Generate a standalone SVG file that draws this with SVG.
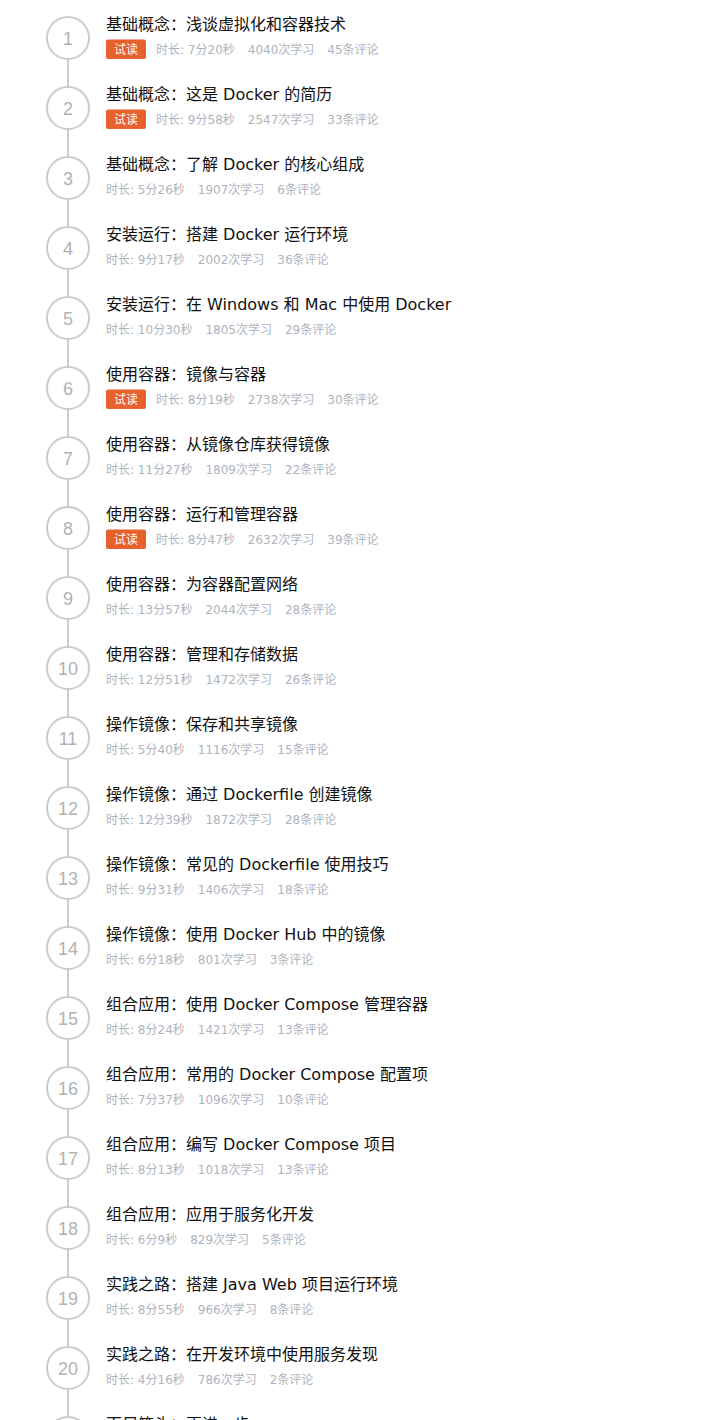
<svg xmlns="http://www.w3.org/2000/svg" width="706" height="1420" viewBox="0 0 706 1420">
<style>
.bg{fill:#ffffff}
.conn{stroke:#cccccc;stroke-width:2;fill:none}
.ring{fill:#ffffff;stroke:#cccccc;stroke-width:2}
.num{font-family:"Liberation Sans","Noto Sans CJK SC",sans-serif;font-size:18px;fill:#b2b2b2;text-anchor:middle}
.title{font-family:"DejaVu Sans","Noto Sans CJK SC",sans-serif;font-size:16px;fill:#111111}
.meta{font-family:"DejaVu Sans","Noto Sans CJK SC",sans-serif;font-size:12px;fill:#adb4bd}
.badge{fill:#e8602c}
.btxt{font-family:"Noto Sans CJK SC",sans-serif;font-size:12px;fill:#ffffff;text-anchor:middle}
</style>
<rect class="bg" x="0" y="0" width="706" height="1420"/>
<g id="connectors">
<line class="conn" x1="68" y1="59" x2="68" y2="87"/>
<line class="conn" x1="68" y1="129" x2="68" y2="157"/>
<line class="conn" x1="68" y1="199" x2="68" y2="227"/>
<line class="conn" x1="68" y1="269" x2="68" y2="297"/>
<line class="conn" x1="68" y1="339" x2="68" y2="367"/>
<line class="conn" x1="68" y1="409" x2="68" y2="437"/>
<line class="conn" x1="68" y1="479" x2="68" y2="507"/>
<line class="conn" x1="68" y1="549" x2="68" y2="577"/>
<line class="conn" x1="68" y1="619" x2="68" y2="647"/>
<line class="conn" x1="68" y1="689" x2="68" y2="717"/>
<line class="conn" x1="68" y1="759" x2="68" y2="787"/>
<line class="conn" x1="68" y1="829" x2="68" y2="857"/>
<line class="conn" x1="68" y1="899" x2="68" y2="927"/>
<line class="conn" x1="68" y1="969" x2="68" y2="997"/>
<line class="conn" x1="68" y1="1039" x2="68" y2="1067"/>
<line class="conn" x1="68" y1="1109" x2="68" y2="1137"/>
<line class="conn" x1="68" y1="1179" x2="68" y2="1207"/>
<line class="conn" x1="68" y1="1249" x2="68" y2="1277"/>
<line class="conn" x1="68" y1="1319" x2="68" y2="1347"/>
<line class="conn" x1="68" y1="1389" x2="68" y2="1417"/>
</g>

<g id="lesson-1">
<circle class="ring" cx="68" cy="38" r="21"/><text class="num" x="68" y="44.5">1</text>
<text class="title" x="106" y="30">基础概念：浅谈虚拟化和容器技术</text>
<rect class="badge" x="106" y="39.5" width="40" height="19.5" rx="2"/><text class="btxt" x="126" y="54">试读</text>
<text class="meta" x="156" y="54">时长: 7分20秒<tspan dx="13">4040次学习</tspan><tspan dx="13">45条评论</tspan></text>
</g>
<g id="lesson-2">
<circle class="ring" cx="68" cy="108" r="21"/><text class="num" x="68" y="114.5">2</text>
<text class="title" x="106" y="100">基础概念：这是 Docker 的简历</text>
<rect class="badge" x="106" y="109.5" width="40" height="19.5" rx="2"/><text class="btxt" x="126" y="124">试读</text>
<text class="meta" x="156" y="124">时长: 9分58秒<tspan dx="13">2547次学习</tspan><tspan dx="13">33条评论</tspan></text>
</g>
<g id="lesson-3">
<circle class="ring" cx="68" cy="178" r="21"/><text class="num" x="68" y="184.5">3</text>
<text class="title" x="106" y="170">基础概念：了解 Docker 的核心组成</text>
<text class="meta" x="106" y="194">时长: 5分26秒<tspan dx="13">1907次学习</tspan><tspan dx="13">6条评论</tspan></text>
</g>
<g id="lesson-4">
<circle class="ring" cx="68" cy="248" r="21"/><text class="num" x="68" y="254.5">4</text>
<text class="title" x="106" y="240">安装运行：搭建 Docker 运行环境</text>
<text class="meta" x="106" y="264">时长: 9分17秒<tspan dx="13">2002次学习</tspan><tspan dx="13">36条评论</tspan></text>
</g>
<g id="lesson-5">
<circle class="ring" cx="68" cy="318" r="21"/><text class="num" x="68" y="324.5">5</text>
<text class="title" x="106" y="310">安装运行：在 Windows 和 Mac 中使用 Docker</text>
<text class="meta" x="106" y="334">时长: 10分30秒<tspan dx="13">1805次学习</tspan><tspan dx="13">29条评论</tspan></text>
</g>
<g id="lesson-6">
<circle class="ring" cx="68" cy="388" r="21"/><text class="num" x="68" y="394.5">6</text>
<text class="title" x="106" y="380">使用容器：镜像与容器</text>
<rect class="badge" x="106" y="389.5" width="40" height="19.5" rx="2"/><text class="btxt" x="126" y="404">试读</text>
<text class="meta" x="156" y="404">时长: 8分19秒<tspan dx="13">2738次学习</tspan><tspan dx="13">30条评论</tspan></text>
</g>
<g id="lesson-7">
<circle class="ring" cx="68" cy="458" r="21"/><text class="num" x="68" y="464.5">7</text>
<text class="title" x="106" y="450">使用容器：从镜像仓库获得镜像</text>
<text class="meta" x="106" y="474">时长: 11分27秒<tspan dx="13">1809次学习</tspan><tspan dx="13">22条评论</tspan></text>
</g>
<g id="lesson-8">
<circle class="ring" cx="68" cy="528" r="21"/><text class="num" x="68" y="534.5">8</text>
<text class="title" x="106" y="520">使用容器：运行和管理容器</text>
<rect class="badge" x="106" y="529.5" width="40" height="19.5" rx="2"/><text class="btxt" x="126" y="544">试读</text>
<text class="meta" x="156" y="544">时长: 8分47秒<tspan dx="13">2632次学习</tspan><tspan dx="13">39条评论</tspan></text>
</g>
<g id="lesson-9">
<circle class="ring" cx="68" cy="598" r="21"/><text class="num" x="68" y="604.5">9</text>
<text class="title" x="106" y="590">使用容器：为容器配置网络</text>
<text class="meta" x="106" y="614">时长: 13分57秒<tspan dx="13">2044次学习</tspan><tspan dx="13">28条评论</tspan></text>
</g>
<g id="lesson-10">
<circle class="ring" cx="68" cy="668" r="21"/><text class="num" x="68" y="674.5">10</text>
<text class="title" x="106" y="660">使用容器：管理和存储数据</text>
<text class="meta" x="106" y="684">时长: 12分51秒<tspan dx="13">1472次学习</tspan><tspan dx="13">26条评论</tspan></text>
</g>
<g id="lesson-11">
<circle class="ring" cx="68" cy="738" r="21"/><text class="num" x="68" y="744.5">11</text>
<text class="title" x="106" y="730">操作镜像：保存和共享镜像</text>
<text class="meta" x="106" y="754">时长: 5分40秒<tspan dx="13">1116次学习</tspan><tspan dx="13">15条评论</tspan></text>
</g>
<g id="lesson-12">
<circle class="ring" cx="68" cy="808" r="21"/><text class="num" x="68" y="814.5">12</text>
<text class="title" x="106" y="800">操作镜像：通过 Dockerfile 创建镜像</text>
<text class="meta" x="106" y="824">时长: 12分39秒<tspan dx="13">1872次学习</tspan><tspan dx="13">28条评论</tspan></text>
</g>
<g id="lesson-13">
<circle class="ring" cx="68" cy="878" r="21"/><text class="num" x="68" y="884.5">13</text>
<text class="title" x="106" y="870">操作镜像：常见的 Dockerfile 使用技巧</text>
<text class="meta" x="106" y="894">时长: 9分31秒<tspan dx="13">1406次学习</tspan><tspan dx="13">18条评论</tspan></text>
</g>
<g id="lesson-14">
<circle class="ring" cx="68" cy="948" r="21"/><text class="num" x="68" y="954.5">14</text>
<text class="title" x="106" y="940">操作镜像：使用 Docker Hub 中的镜像</text>
<text class="meta" x="106" y="964">时长: 6分18秒<tspan dx="13">801次学习</tspan><tspan dx="13">3条评论</tspan></text>
</g>
<g id="lesson-15">
<circle class="ring" cx="68" cy="1018" r="21"/><text class="num" x="68" y="1024.5">15</text>
<text class="title" x="106" y="1010">组合应用：使用 Docker Compose 管理容器</text>
<text class="meta" x="106" y="1034">时长: 8分24秒<tspan dx="13">1421次学习</tspan><tspan dx="13">13条评论</tspan></text>
</g>
<g id="lesson-16">
<circle class="ring" cx="68" cy="1088" r="21"/><text class="num" x="68" y="1094.5">16</text>
<text class="title" x="106" y="1080">组合应用：常用的 Docker Compose 配置项</text>
<text class="meta" x="106" y="1104">时长: 7分37秒<tspan dx="13">1096次学习</tspan><tspan dx="13">10条评论</tspan></text>
</g>
<g id="lesson-17">
<circle class="ring" cx="68" cy="1158" r="21"/><text class="num" x="68" y="1164.5">17</text>
<text class="title" x="106" y="1150">组合应用：编写 Docker Compose 项目</text>
<text class="meta" x="106" y="1174">时长: 8分13秒<tspan dx="13">1018次学习</tspan><tspan dx="13">13条评论</tspan></text>
</g>
<g id="lesson-18">
<circle class="ring" cx="68" cy="1228" r="21"/><text class="num" x="68" y="1234.5">18</text>
<text class="title" x="106" y="1220">组合应用：应用于服务化开发</text>
<text class="meta" x="106" y="1244">时长: 6分9秒<tspan dx="13">829次学习</tspan><tspan dx="13">5条评论</tspan></text>
</g>
<g id="lesson-19">
<circle class="ring" cx="68" cy="1298" r="21"/><text class="num" x="68" y="1304.5">19</text>
<text class="title" x="106" y="1290">实践之路：搭建 Java Web 项目运行环境</text>
<text class="meta" x="106" y="1314">时长: 8分55秒<tspan dx="13">966次学习</tspan><tspan dx="13">8条评论</tspan></text>
</g>
<g id="lesson-20">
<circle class="ring" cx="68" cy="1368" r="21"/><text class="num" x="68" y="1374.5">20</text>
<text class="title" x="106" y="1360">实践之路：在开发环境中使用服务发现</text>
<text class="meta" x="106" y="1384">时长: 4分16秒<tspan dx="13">786次学习</tspan><tspan dx="13">2条评论</tspan></text>
</g>
<g id="lesson-21">
<circle class="ring" cx="68" cy="1438" r="21"/>
<text class="title" x="106" y="1430">百尺竿头：更进一步</text>
</g>
</svg>
